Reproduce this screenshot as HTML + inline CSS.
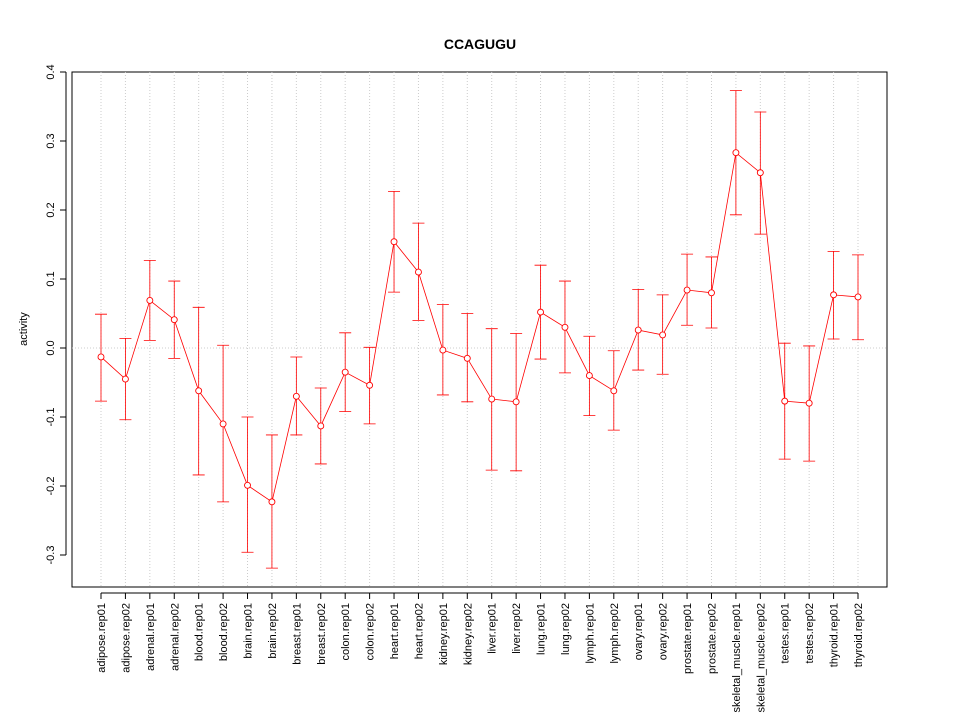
<!DOCTYPE html>
<html><head><meta charset="utf-8"><style>
body{margin:0;background:#fff}
svg text{font-family:"Liberation Sans",sans-serif;fill:#000}
</style></head><body>
<svg id="c" width="960" height="720">
<text x="480" y="49" text-anchor="middle" font-weight="bold" font-size="14">CCAGUGU</text>
<text transform="translate(27,329) rotate(-90)" text-anchor="middle" font-size="11">activity</text>
<rect x="72" y="72" width="815" height="515" fill="none" stroke="#000"/>
<g id="g"></g>
</svg>
<script>
const categories=["adipose.rep01","adipose.rep02","adrenal.rep01","adrenal.rep02","blood.rep01","blood.rep02","brain.rep01","brain.rep02","breast.rep01","breast.rep02","colon.rep01","colon.rep02","heart.rep01","heart.rep02","kidney.rep01","kidney.rep02","liver.rep01","liver.rep02","lung.rep01","lung.rep02","lymph.rep01","lymph.rep02","ovary.rep01","ovary.rep02","prostate.rep01","prostate.rep02","skeletal_muscle.rep01","skeletal_muscle.rep02","testes.rep01","testes.rep02","thyroid.rep01","thyroid.rep02"];
const means=[-0.013,-0.045,0.069,0.041,-0.062,-0.110,-0.199,-0.223,-0.070,-0.113,-0.035,-0.054,0.154,0.110,-0.003,-0.015,-0.074,-0.078,0.052,0.030,-0.040,-0.062,0.026,0.019,0.084,0.080,0.283,0.254,-0.077,-0.080,0.077,0.074];
const uppers=[0.049,0.014,0.127,0.097,0.059,0.004,-0.100,-0.126,-0.013,-0.058,0.022,0.001,0.227,0.181,0.063,0.050,0.028,0.021,0.120,0.097,0.017,-0.004,0.085,0.077,0.136,0.132,0.373,0.342,0.007,0.003,0.140,0.135];
const lowers=[-0.077,-0.104,0.011,-0.015,-0.184,-0.223,-0.296,-0.319,-0.126,-0.168,-0.092,-0.110,0.081,0.040,-0.068,-0.078,-0.177,-0.178,-0.016,-0.036,-0.098,-0.119,-0.032,-0.038,0.033,0.029,0.193,0.165,-0.161,-0.164,0.013,0.012];
const yTicks=[-0.3,-0.2,-0.1,0.0,0.1,0.2,0.3,0.4];
const yScale=v=>348-v*690;
const xScale=i=>101+i*(757/31);
const g=document.getElementById('g');
const NS='http://www.w3.org/2000/svg';
function mk(t,a){const e=document.createElementNS(NS,t);for(const k in a)e.setAttribute(k,a[k]);g.appendChild(e);return e;}
let e;
e=mk('line',{x1:72,x2:887,y1:yScale(0),y2:yScale(0),stroke:'#ccc','stroke-dasharray':'1,2'});


e=mk('line',{x1:66,x2:66,y1:yScale(0.4),y2:yScale(-0.3),stroke:'#000'});


yTicks.forEach(v=>{const y=yScale(v);
e=mk('line',{x1:60,x2:66,y1:y,y2:y,stroke:'#000'});


e=mk('text',{transform:`translate(54,${y}) rotate(-90)`,'text-anchor':'middle','font-size':'11'});
e.textContent=v.toFixed(1);

});
e=mk('line',{x1:xScale(0),x2:xScale(31),y1:593,y2:593,stroke:'#000'});


let pts=[];
categories.forEach((c,i)=>{const x=xScale(i);
e=mk('line',{x1:x,x2:x,y1:72,y2:587,stroke:'#ccc','stroke-dasharray':'1,2'});


e=mk('line',{x1:x,x2:x,y1:593,y2:599,stroke:'#000'});


e=mk('text',{transform:`translate(${x+4},603) rotate(-90)`,'text-anchor':'end','font-size':'11'});
e.textContent=c;


const yu=yScale(uppers[i]),yl=yScale(lowers[i]);
e=mk('path',{d:`M${x},${yu}V${yl}M${x-6},${yu}H${x+6}M${x-6},${yl}H${x+6}`,stroke:'#f00',fill:'none','stroke-width':0.8});


pts.push(x+','+yScale(means[i]));});
e=mk('polyline',{points:pts.join(' '),stroke:'#f00',fill:'none','stroke-width':0.8});


means.forEach((m,i)=>{
e=mk('circle',{cx:xScale(i),cy:yScale(m),r:3,stroke:'#f00',fill:'#fff','stroke-width':0.9});

});
</script>
</body></html>
